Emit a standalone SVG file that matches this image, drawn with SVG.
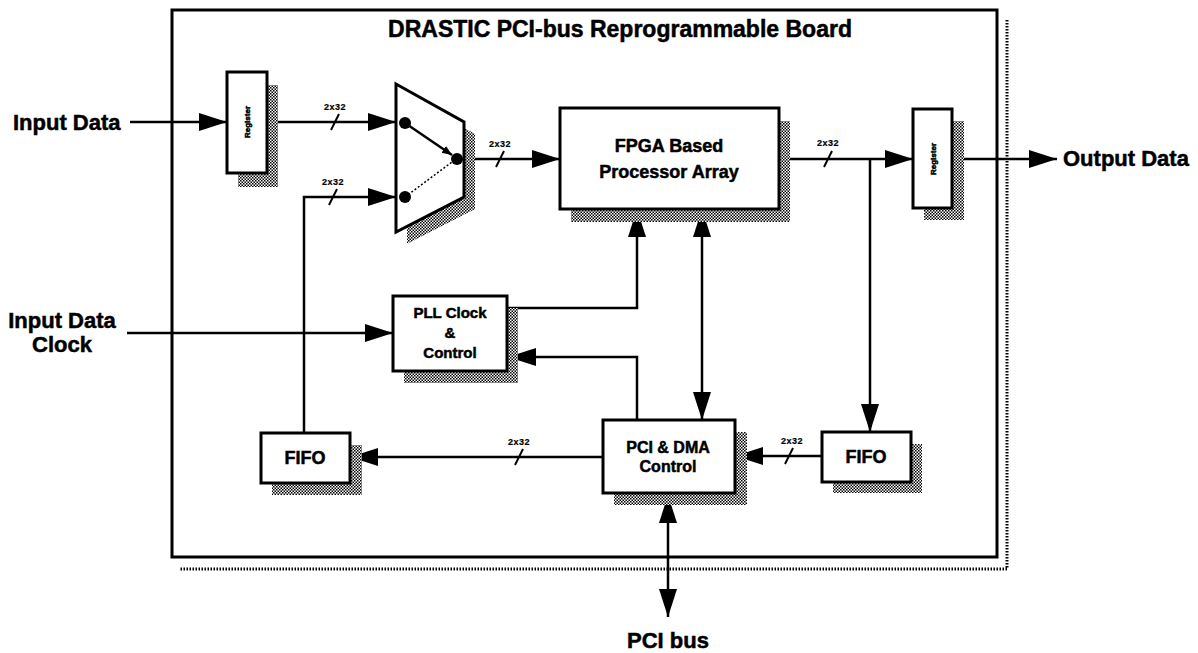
<svg xmlns="http://www.w3.org/2000/svg" width="1198" height="653" viewBox="0 0 1198 653">
<defs>
<pattern id="chk" width="3" height="3" patternUnits="userSpaceOnUse">
<rect width="3" height="3" fill="#fff"/>
<rect x="0" y="0" width="1.5" height="1.5" fill="#000"/>
<rect x="1.5" y="1.5" width="1.5" height="1.5" fill="#000"/>
</pattern>
<marker id="ah" markerUnits="userSpaceOnUse" markerWidth="30" markerHeight="20" refX="28" refY="9" orient="auto-start-reverse" viewBox="0 0 30 20">
<path d="M0,0 L28,9 L0,18 z" fill="#000"/>
</marker>
<marker id="sah" markerUnits="userSpaceOnUse" markerWidth="12" markerHeight="10" refX="10" refY="4" orient="auto" viewBox="0 0 12 10">
<path d="M0,0 L10,4 L0,8 z" fill="#000"/>
</marker>
</defs>
<style>
text{font-family:"Liberation Sans",Arial,sans-serif;font-weight:bold;fill:#000;stroke:#000;stroke-width:0.5}
.box{fill:#fff;stroke:#000;stroke-width:3}
.sh{fill:url(#chk);stroke:none}
.ln{fill:none;stroke:#000;stroke-width:2.5}
.arr{marker-end:url(#ah)}
.bi{marker-start:url(#ah);marker-end:url(#ah)}
.lbl{font-size:9px;text-anchor:middle;letter-spacing:0.5px;stroke-width:0.2}
.slash{stroke:#000;stroke-width:2}
.c{text-anchor:middle}
</style>
<rect width="1198" height="653" fill="#fff"/>

<g id="board">
<polyline points="1007,20 1007,569 180,569" fill="none" stroke="#000" stroke-width="3" stroke-dasharray="1.5 1.5"/>
<rect x="172" y="10" width="825" height="547" fill="none" stroke="#000" stroke-width="3"/>
<text x="620" y="37" class="c" font-size="23">DRASTIC PCI-bus Reprogrammable Board</text>
</g>

<g id="connectors">
<line class="ln arr" x1="130" y1="122" x2="227" y2="122"/>
<line class="ln arr" x1="267" y1="122" x2="396" y2="122"/>
<polyline class="ln arr" points="304,433 304,197 396,197"/>
<line class="ln arr" x1="464" y1="159" x2="560" y2="159"/>
<line class="ln arr" x1="779" y1="159" x2="913" y2="159"/>
<line class="ln arr" x1="870" y1="159" x2="870" y2="432"/>
<line class="ln arr" x1="952" y1="159" x2="1057" y2="159"/>
<line class="ln arr" x1="127" y1="333" x2="393" y2="333"/>
<polyline class="ln arr" points="507,308 637,308 637,209"/>
<polyline class="ln arr" points="637,420 637,357 508,357"/>
<line class="ln bi" x1="702" y1="209" x2="702" y2="420"/>
<line class="ln arr" x1="603" y1="457" x2="350" y2="457"/>
<line class="ln arr" x1="822" y1="456" x2="735" y2="456"/>
<line class="ln bi" x1="668" y1="495" x2="668" y2="617"/>
<line class="slash" x1="331" y1="130" x2="339" y2="114"/>
<line class="slash" x1="329" y1="205" x2="337" y2="189"/>
<line class="slash" x1="496" y1="167" x2="504" y2="151"/>
<line class="slash" x1="824" y1="167" x2="832" y2="151"/>
<line class="slash" x1="515" y1="465" x2="523" y2="449"/>
<line class="slash" x1="785" y1="464" x2="793" y2="448"/>
<text x="335" y="110" class="lbl">2x32</text>
<text x="333" y="185" class="lbl">2x32</text>
<text x="500" y="147" class="lbl">2x32</text>
<text x="828" y="146" class="lbl">2x32</text>
<text x="519" y="445" class="lbl">2x32</text>
<text x="792" y="444" class="lbl">2x32</text>
</g>

<g id="register1">
<rect class="sh" x="238" y="85" width="40" height="102"/>
<rect class="box" x="227" y="72" width="40" height="101"/>
<text transform="translate(250,122) rotate(-90)" class="c" font-size="8" stroke-width="0.2">Register</text>
</g>

<g id="mux">
<polygon class="sh" points="407,96 475,134 475,209 407,244"/>
<polygon class="box" points="396,84 464,122 464,197 396,232"/>
<line x1="405" y1="123" x2="452" y2="155" stroke="#000" stroke-width="2.5" marker-end="url(#sah)"/>
<line x1="405" y1="197" x2="452" y2="162" stroke="#000" stroke-width="1.5" stroke-dasharray="2 2"/>
<circle cx="405" cy="123" r="6"/>
<circle cx="405" cy="197" r="6"/>
<circle cx="457" cy="159" r="6"/>
</g>

<g id="fpga">
<rect class="sh" x="571" y="121" width="219" height="101"/>
<rect class="box" x="560" y="108" width="219" height="101"/>
<text x="669" y="152" class="c" font-size="18">FPGA Based</text>
<text x="669" y="178" class="c" font-size="18">Processor Array</text>
</g>

<g id="register2">
<rect class="sh" x="924" y="121" width="40" height="99"/>
<rect class="box" x="913" y="109" width="39" height="99"/>
<text transform="translate(936,159) rotate(-90)" class="c" font-size="8" stroke-width="0.2">Register</text>
</g>

<g id="output-data">
<text x="1063" y="166" font-size="22">Output Data</text>
</g>

<g id="input-data">
<text x="13" y="130" font-size="22">Input Data</text>
</g>

<g id="input-clock">
<text x="62" y="328" class="c" font-size="22">Input Data</text>
<text x="62" y="352" class="c" font-size="22">Clock</text>
</g>

<g id="pll">
<rect class="sh" x="404" y="308" width="114" height="75"/>
<rect class="box" x="393" y="296" width="114" height="75"/>
<text x="450" y="318" class="c" font-size="15">PLL Clock</text>
<text x="450" y="338" class="c" font-size="15">&amp;</text>
<text x="450" y="358" class="c" font-size="15">Control</text>
</g>

<g id="fifo-left">
<rect class="sh" x="272" y="445" width="90" height="50"/>
<rect class="box" x="261" y="433" width="89" height="50"/>
<text x="305" y="464" class="c" font-size="18">FIFO</text>
</g>

<g id="pci">
<rect class="sh" x="614" y="432" width="133" height="73"/>
<rect class="box" x="603" y="420" width="132" height="73"/>
<text x="668" y="453" class="c" font-size="16">PCI &amp; DMA</text>
<text x="668" y="472" class="c" font-size="16">Control</text>
</g>

<g id="fifo-right">
<rect class="sh" x="833" y="444" width="89" height="49"/>
<rect class="box" x="822" y="432" width="89" height="50"/>
<text x="866" y="463" class="c" font-size="18">FIFO</text>
</g>

<g id="pci-bus">
<text x="668" y="648" class="c" font-size="22">PCI bus</text>
</g>
</svg>
